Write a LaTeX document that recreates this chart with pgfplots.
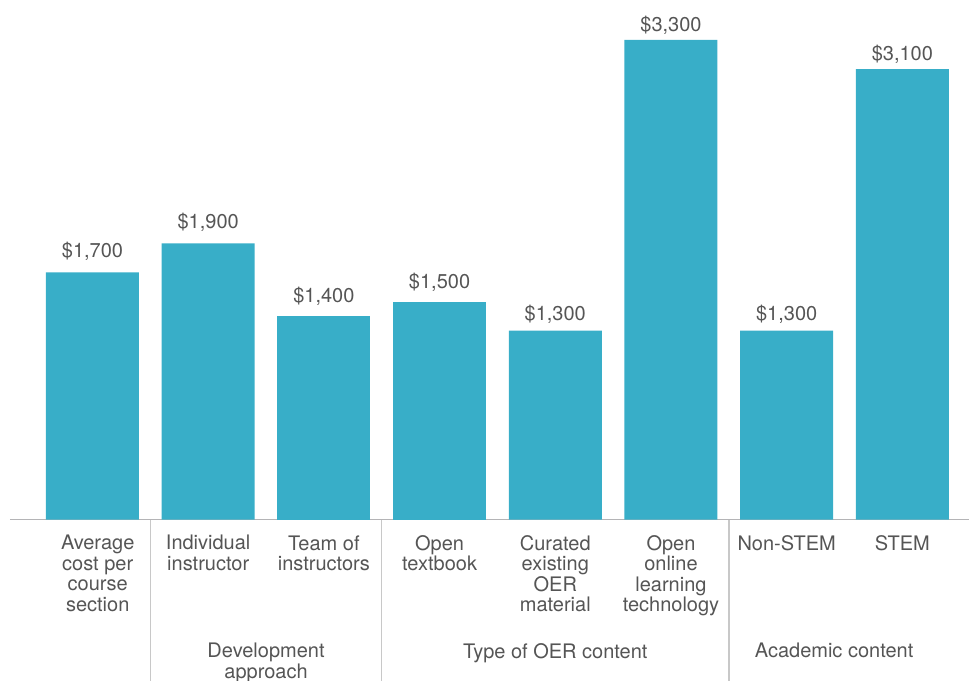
\documentclass[border=0pt]{standalone}
\usepackage{pgfplots}
\pgfplotsset{compat=1.18}
\usepackage{fontspec}
\setmainfont{TeX Gyre Heros}
\definecolor{barblue}{RGB}{56,174,200}
\definecolor{txt}{RGB}{85,85,85}
\definecolor{axgray}{RGB}{180,180,182}
\definecolor{sepgray}{RGB}{200,200,200}
\begin{document}
\begin{tikzpicture}
\path[use as bounding box] (0,0) rectangle (484.5pt,340pt);
\begin{axis}[
 at={(5pt,80.25pt)}, anchor=south west,
 scale only axis, width=479.5pt, height=259.75pt,
 xmin=-0.713, xmax=7.576, ymin=0, ymax=3575,
 axis x line*=bottom, axis y line=none,
 x axis line style={draw=axgray, line width=0.8pt, -},
 xtick={0.045,1,2,3,4,5,6,7}, major tick length=0pt,
 xticklabels={{Average\\cost per\\course\\section},{Individual\\instructor},{Team of\\instructors},{Open\\textbook},{Curated\\existing\\OER\\material},{Open\\online\\learning\\technology},{Non-STEM},{STEM}},
 xticklabel style={align=center, font=\fontsize{10}{10.25}\selectfont, text=txt, anchor=north, inner sep=0pt, yshift=-7.75pt},
 ytick=\empty,
 clip=false,
 ybar, bar width=46.5pt, bar shift=0pt,
 nodes near coords, point meta=explicit symbolic,
 every node near coord/.append style={anchor=base, inner sep=0pt, font=\fontsize{10}{12}\selectfont, text=txt},
]
\addplot[fill=barblue, draw=none, every node near coord/.append style={yshift=7.5pt}] coordinates {
 (0,1700) [\$1,700]
 (1,1900) [\$1,900]
};
\addplot[fill=barblue, draw=none, every node near coord/.append style={yshift=7pt}] coordinates {
 (2,1400) [\$1,400]
};
\addplot[fill=barblue, draw=none, every node near coord/.append style={yshift=6.5pt}] coordinates {
 (3,1500) [\$1,500]
};
\addplot[fill=barblue, draw=none, every node near coord/.append style={yshift=5pt}] coordinates {
 (4,1300) [\$1,300]
 (6,1300) [\$1,300]
};
\addplot[fill=barblue, draw=none, every node near coord/.append style={yshift=4.25pt}] coordinates {
 (5,3300) [\$3,300]
 (7,3100) [\$3,100]
};
\draw[sepgray, line width=0.75pt] (axis cs:0.5,0) -- (axis cs:0.5,-1110);
\draw[sepgray, line width=0.75pt] (axis cs:2.5,0) -- (axis cs:2.5,-1110);
\draw[sepgray, line width=0.75pt] (axis cs:5.5,0) -- (axis cs:5.5,-1110);
\node[anchor=north, inner sep=0pt, yshift=-61.75pt, align=center, font=\fontsize{10}{10.25}\selectfont, text=txt] at (axis cs:1.5,0) {Development\\approach};
\node[anchor=north, inner sep=0pt, yshift=-61.75pt, align=center, font=\fontsize{10}{10.25}\selectfont, text=txt] at (axis cs:4,0) {Type of OER content};
\node[anchor=north, inner sep=0pt, yshift=-61.75pt, align=center, font=\fontsize{10}{10.25}\selectfont, text=txt] at (axis cs:6.41,0) {Academic content};
\end{axis}
\end{tikzpicture}
\end{document}
